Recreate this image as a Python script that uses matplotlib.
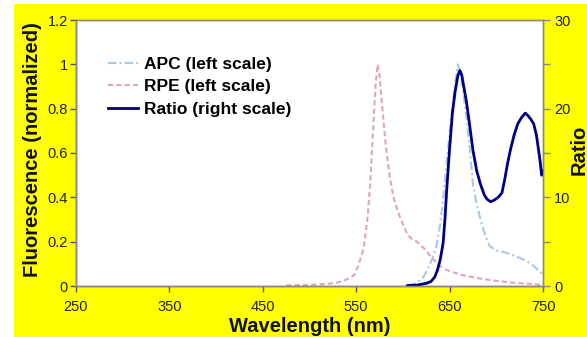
import matplotlib
matplotlib.use("Agg")
import matplotlib.pyplot as plt
from matplotlib.patches import Rectangle

# ---- data ----
rpe_wl = [475, 500, 520, 530, 540, 548, 553, 558, 562, 565, 568, 571, 573, 575, 578, 582,
          586, 590, 595, 600, 605, 610, 615, 620, 625, 630, 635, 640, 647, 655, 665, 672,
          685, 695, 707, 720, 735, 750]
rpe_val = [0.003, 0.005, 0.01, 0.015, 0.03, 0.05, 0.10, 0.17, 0.30, 0.46, 0.70, 0.92, 1.0,
           0.95, 0.80, 0.62, 0.49, 0.40, 0.33, 0.28, 0.23, 0.21, 0.20, 0.18, 0.16, 0.13,
           0.11, 0.09, 0.072, 0.06, 0.048, 0.042, 0.032, 0.026, 0.02, 0.014, 0.01, 0.005]

apc_wl = [605, 612, 618, 622, 627, 632, 636, 640, 643, 646, 650, 654, 657, 659, 662, 665,
          668, 672, 675, 679, 683, 688, 693, 700, 711, 720, 729, 737, 743, 747, 750]
apc_val = [0.003, 0.01, 0.025, 0.04, 0.08, 0.13, 0.18, 0.28, 0.39, 0.52, 0.69, 0.85, 0.95,
           1.0, 0.95, 0.86, 0.76, 0.60, 0.46, 0.37, 0.30, 0.23, 0.18, 0.16, 0.15, 0.135,
           0.12, 0.10, 0.08, 0.065, 0.05]

ratio_wl = [605, 615, 620, 625, 630, 634, 637, 640, 643, 645, 647, 650, 653, 656, 659, 661,
            663, 666, 668, 671, 675, 679, 683, 687, 690, 694, 698, 702, 706, 709, 712, 715,
            719, 723, 727, 731, 734, 737, 740, 743, 745, 747, 748.5, 750]
ratio_val = [0.05, 0.1, 0.2, 0.3, 0.5, 1.0, 1.8, 3.0, 4.8, 7.5, 11.0, 15.5, 19.5, 22.0, 23.8,
             24.3, 23.8, 22.0, 20.8, 18.5, 15.3, 13.0, 11.5, 10.3, 9.8, 9.5, 9.7, 10.0, 10.5,
             12.0, 13.8, 15.3, 17.0, 18.3, 19.0, 19.5, 19.2, 18.8, 18.3, 17.0, 15.5, 14.0,
             12.5, 13.0]

x_ticks = [250, 350, 450, 550, 650, 750]
left_ticks = [0, 0.2, 0.4, 0.6, 0.8, 1.0, 1.2]
left_labels = ["0", "0.2", "0.4", "0.6", "0.8", "1", "1.2"]
right_ticks = [0, 5, 10, 15, 20, 25, 30]
right_labels = ["0", "", "10", "", "20", "", "30"]

# ---- figure ----
plt.rcParams['font.family'] = ['Liberation Sans', 'DejaVu Sans']
W, H = 587, 337
fig = plt.figure(figsize=(W / 100, H / 100), dpi=100, facecolor='white')
fig.patches.append(Rectangle((14 / W, 0), 1 - 14 / W, (H - 4) / H, transform=fig.transFigure,
                             facecolor='#ffff00', edgecolor='none', zorder=-10))

ax = fig.add_axes([76 / W, (H - 286) / H, (543 - 76) / W, (286 - 20) / H])
ax.set_facecolor('white')
ax2 = ax.twinx()

l1, = ax.plot(apc_wl, apc_val, color='#a9c8e3', lw=1.5, ls=(0, (4, 1.5, 1, 1.5)),
              label='APC (left scale)')
l2, = ax.plot(rpe_wl, rpe_val, color='#e0a6b6', lw=1.5, ls=(0, (2.5, 1.5)),
              label='RPE (left scale)')
l3, = ax2.plot(ratio_wl, ratio_val, color='#000080', lw=2.0, label='Ratio (right scale)')

ax.set_xlim(250, 750)
ax.set_ylim(0, 1.2)
ax2.set_ylim(0, 30)
ax.set_xticks(x_ticks)
ax.set_xticklabels([str(t) for t in x_ticks])
ax.set_yticks(left_ticks)
ax.set_yticklabels(left_labels)
ax2.set_yticks(right_ticks)
ax2.set_yticklabels(right_labels)

for a in (ax, ax2):
    for s in a.spines.values():
        s.set_color('#888888')
        s.set_linewidth(1.0)
ax.spines['left'].set_color('#555555')
ax.spines['bottom'].set_color('#555555')

ax.tick_params(axis='x', direction='out', length=4, width=1, color='#555555',
               labelsize=10.5, pad=6, labelcolor='#222222')
ax.tick_params(axis='y', direction='out', length=4, width=1, color='#555555',
               labelsize=10.5, pad=2, labelcolor='#222222')
ax2.tick_params(axis='y', direction='out', length=5, width=1, color='#888888',
                labelsize=10.5, pad=3, labelcolor='#222222')

fig.text(309.5 / W, 1 - 326 / H, 'Wavelength (nm)', ha='center', va='center',
         fontsize=14.5, fontweight='bold', color='#111111')
fig.text(33 / W, 1 - 150 / H, 'Fluorescence (normalized)', ha='center', va='center',
         rotation=90, fontsize=14.5, fontweight='bold', color='#111111')
fig.text(579 / W, 1 - 150 / H, 'Ratio', ha='center', va='center',
         rotation=90, fontsize=14.5, fontweight='bold', color='#111111')

leg = ax.legend(handles=[l1, l2, l3], loc='upper left', bbox_to_anchor=(0.068, 0.862),
                frameon=False, prop={'weight': 'bold', 'size': 12.5}, handlelength=1.75,
                handletextpad=0.35, labelspacing=0.43, borderaxespad=0, borderpad=0)

fig.savefig('out.png', dpi=100, facecolor=fig.get_facecolor())
